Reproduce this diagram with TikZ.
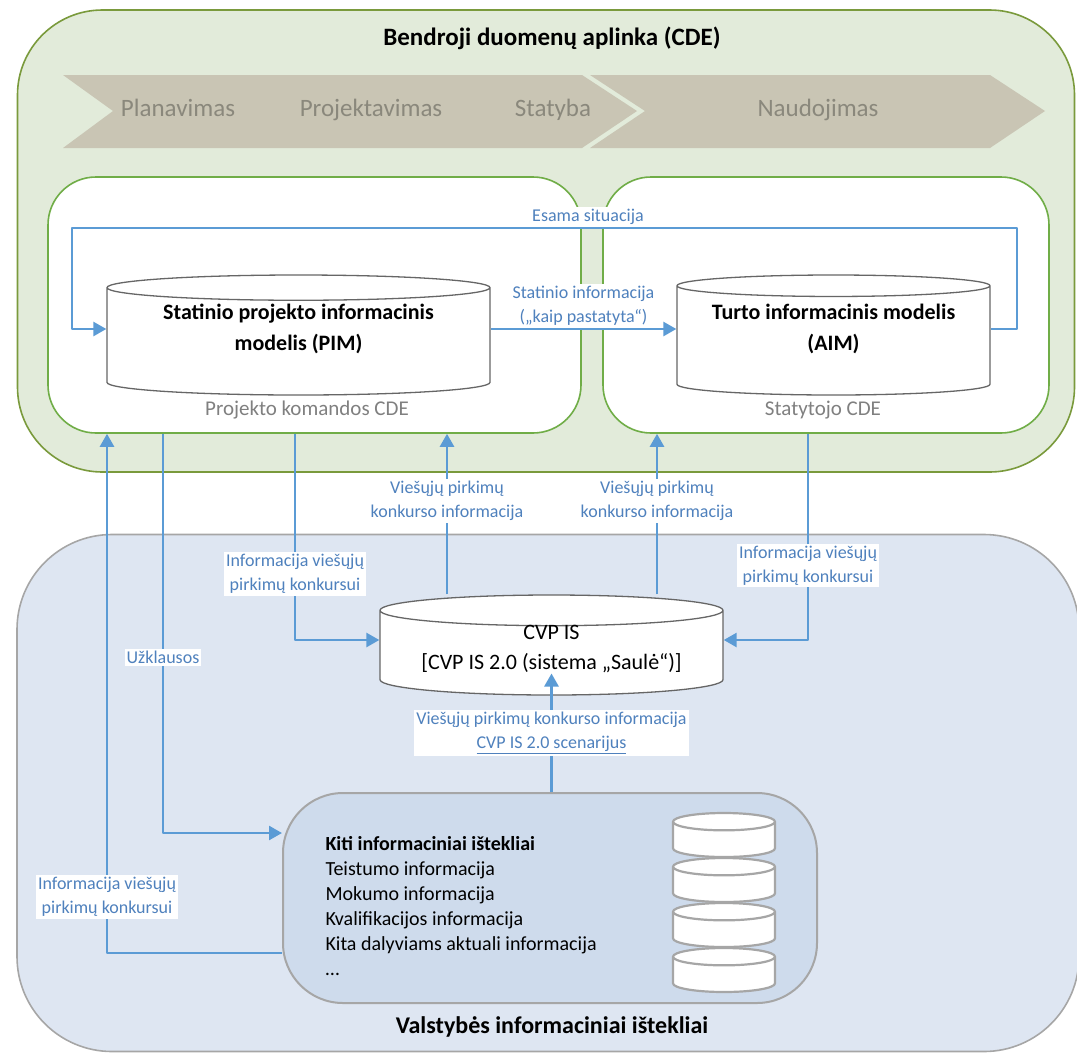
\documentclass[tikz,border=0pt]{standalone}
\usepackage{fontspec}
\setmainfont{Carlito}
\usetikzlibrary{shapes.geometric,arrows.meta}
\definecolor{cdefill}{RGB}{226,235,218}
\definecolor{cdeedge}{RGB}{122,154,60}
\definecolor{boxedge}{RGB}{112,173,71}
\definecolor{chevfill}{RGB}{201,197,180}
\definecolor{chevtext}{RGB}{138,136,124}
\definecolor{flow}{RGB}{91,155,213}
\definecolor{flowtext}{RGB}{79,129,189}
\definecolor{statefill}{RGB}{222,230,242}
\definecolor{kitifill}{RGB}{206,219,236}
\definecolor{edgegray}{RGB}{166,166,166}
\begin{document}
\begin{tikzpicture}[x=1pt, y=-1pt, line join=round, >={Triangle[width=14pt,length=13pt]},
	flowline/.style={draw=flow, line width=2.6pt},
	lbl/.style={fill=white, text=flowtext, align=center, inner sep=2pt, font=\fontsize{18}{24}\selectfont},
	db/.style={cylinder, shape border rotate=90, anchor=shape center, draw=gray!80!black, fill=white, line width=1.3pt, aspect=0.075},
	dbtext/.style={align=center, font=\bfseries\fontsize{22}{31}\selectfont},
	dbstack/.style={cylinder, shape border rotate=90, anchor=shape center, draw=edgegray, fill=white, line width=2.2pt, aspect=0.2, text width=80pt, minimum width=102pt, minimum height=44pt},
	cdebox/.style={draw=boxedge, fill=white, line width=1.6pt, rounded corners=48pt, minimum height=256pt}]
	\useasboundingbox (0,0) rectangle (1077,1053);
	\path
	(447,0) coordinate (xa)
	(657,0) coordinate (xb)
	(295,0) coordinate (xc)
	(808,0) coordinate (xd)
	(163,0) coordinate (xe)
	(107,0) coordinate (xf)
	(1017,228) coordinate (esR)
	(72,228) coordinate (esL)
	;

	\node[draw=edgegray, fill=statefill, line width=1.6pt, rounded corners=95pt, minimum width=1062pt, minimum height=517pt] (vis) at (548,793) {};
	\node[draw=cdeedge, fill=cdefill, line width=1.6pt, rounded corners=85pt, minimum width=1057pt, minimum height=462pt] (cde) at (546,241) {};
	\node[font=\bfseries\fontsize{25}{30}\selectfont] (cdetitle) at (552,38) {Bendroji duomenų aplinka (CDE)};
	\node[font=\bfseries\fontsize{24}{30}\selectfont] (vistitle) at (552,1027) {Valstybės informaciniai ištekliai};

	\fill[chevfill] (63,75) -- (582,75) -- (637,111) -- (582,148) -- (63,148) -- (113,111) -- cycle;
	\fill[chevfill] (590,75) -- (990,75) -- (1045,111) -- (990,148) -- (590,148) -- (645,111) -- cycle;
	\foreach \t/\x in {Planavimas/178,Projektavimas/371,Statyba/553,Naudojimas/818}
	\node[text=chevtext, anchor=base, font=\fontsize{25}{30}\selectfont] (ph\x) at (\x,116) {\t};

	\node[cdebox, minimum width=533pt] (pcde) at (314.5,305) {};
	\node[cdebox, minimum width=446pt] (scde) at (826,305) {};
	\node[text=gray, font=\fontsize{21}{26}\selectfont] (pcdetxt) at (307,410) {Projekto komandos CDE};
	\node[text=gray, font=\fontsize{21}{26}\selectfont] (scdetxt) at (823,410) {Statytojo CDE};

	\node[db, text width=330pt, minimum width=383pt, minimum height=120pt] (pim) at (298.5,335) {};
	\node[dbtext] (pimtxt) at (298.5,329) {Statinio projekto informacinis\\modelis (PIM)};
	\node[db, text width=300pt, minimum width=313pt, minimum height=120pt, aspect=0.07] (aim) at (833.5,335) {};
	\node[dbtext] (aimtxt) at (833.5,329) {Turto informacinis modelis\\(AIM)};
	\node[db, text width=300pt, minimum width=343pt, minimum height=100pt, aspect=0.1] (cvp) at (551.5,645) {};
	\node[dbtext, font=\fontsize{22}{30}\selectfont] (cvptxt) at (551.5,649) {CVP IS\\{[}CVP IS 2.0 (sistema „Saulė“)]};

	\node[draw=edgegray, fill=kitifill, line width=2pt, rounded corners=60pt, minimum width=534pt, minimum height=210pt] (kiti) at (550,898) {};
	\node[anchor=west, align=left, font=\fontsize{20}{25}\selectfont] (kititxt) at (322,906) {\textbf{Kiti informaciniai ištekliai}\\Teistumo informacija\\Mokumo informacija\\Kvalifikacijos informacija\\Kita dalyviams aktuali informacija\\\dots};
	\foreach \y in {835,880,925,970}
	\node[dbstack] (st\y) at (724,\y) {};

	\draw[flowline,->] (aim.east |- aimtxt) -| (esR) -- node[lbl, pos=0.454, above]{Esama situacija} (esL) |- (pim.west |- pimtxt);
	\draw[flowline,->] (pim.east |- pimtxt) -- node[lbl, above]{Statinio informacija\\(„kaip pastatyta“)} (aim.west |- aimtxt);
	\draw[flowline,->] (xa |- cvp.north) -- node[lbl, pos=0.58]{Viešųjų pirkimų\\konkurso informacija} (xa |- pcde.south);
	\draw[flowline,->] (xb |- cvp.north) -- node[lbl, pos=0.58]{Viešųjų pirkimų\\konkurso informacija} (xb |- scde.south);
	\draw[flowline,->] (xc |- pcde.south) |- node[lbl, pos=0.34]{Informacija viešųjų\\pirkimų konkursui} ([yshift=9pt]cvp.west |- cvptxt);
	\draw[flowline,->] (xd |- scde.south) |- node[lbl, pos=0.32]{Informacija viešųjų\\pirkimų konkursui} ([yshift=9pt]cvp.east |- cvptxt);
	\draw[flowline,->] (cvp.south |- kiti.north) -- node[lbl, pos=0.5]{Viešųjų pirkimų konkurso informacija\\\underline{CVP IS 2.0 scenarijus}} ([yshift=-19pt]cvptxt.center |- cvp.center);
	\draw[flowline,->] (xe |- pcde.south) |- node[lbl, pos=0.28]{Užklausos} ([yshift=65pt]kiti.west);
	\draw[flowline,->] ([yshift=-55pt]kiti.west) -| node[lbl, pos=0.554]{Informacija viešųjų\\pirkimų konkursui} (xf |- pcde.south);
\end{tikzpicture}
\end{document}
